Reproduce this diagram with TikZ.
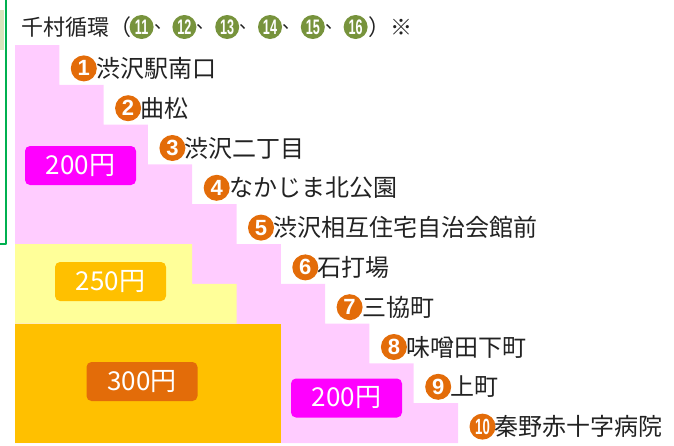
\documentclass[tikz,border=0pt]{standalone}
\usepackage{fontspec}
\usepackage{graphicx}
\setmainfont{Noto Sans CJK JP}
\newfontfamily\numfont{Liberation Sans}
\usetikzlibrary{positioning}
\definecolor{stepPink}{HTML}{FFCCFF}
\definecolor{zoneYellow}{HTML}{FFFF99}
\definecolor{zoneOrange}{HTML}{FFC000}
\definecolor{numOrange}{HTML}{E36C09}
\definecolor{fareMagenta}{HTML}{FF00FF}
\definecolor{numGreen}{HTML}{77933C}
\definecolor{tableGreen}{HTML}{00B050}
\definecolor{lightGreen}{HTML}{D8E4BC}
\definecolor{textGray}{HTML}{222222}
\begin{document}
\begin{tikzpicture}[x=1pt,y=-1pt,line join=round,
	onum/.style={circle,fill=numOrange,text=white,inner sep=0pt,minimum size=26pt,font=\numfont\bfseries\fontsize{22}{22}\selectfont},
	gnum/.style={onum,fill=numGreen,minimum size=24pt,font=\numfont\bfseries\fontsize{21}{21}\selectfont},
	stopname/.style={inner sep=0pt,text=textGray,font=\fontsize{24}{26}\selectfont},
	price/.style={rounded corners=5pt,text=white,minimum width=111pt,minimum height=39pt,inner sep=0pt,font=\fontsize{26}{28}\selectfont}]
	\useasboundingbox (0,0) rectangle (674,445);
	\def\w{44.3} \def\h{39.8} % step size
	% table edge
	\fill[lightGreen] (0,10) rectangle (4,50);
	\draw[tableGreen,line width=2pt] (6,0)--(6,244)--(0,244);
	% fare zones
	\fill[stepPink] (15,45) \foreach \k in {1,...,10}{
		--({15+\k*\w},{45+(\k-1)*\h})--({15+\k*\w},{45+\k*\h})} --(15,{45+10*\h})--cycle;
	\fill[zoneYellow] (15,{45+5*\h})--({15+4*\w},{45+5*\h})--({15+4*\w},{45+6*\h})
		--({15+5*\w},{45+6*\h})--({15+5*\w},{45+7*\h})--(15,{45+7*\h})--cycle;
	\fill[zoneOrange] (15,{45+7*\h}) rectangle ({15+6*\w},{45+10*\h});
	% title
	\node[stopname,font=\fontsize{22}{24}\selectfont,anchor=west] (title) at (21,27) {千村循環（};
	\node[gnum,right=-2pt of title] (g11) {\scalebox{.6}[1]{11}};
	\foreach \n [remember=\n as \m (initially 11)] in {12,...,16}{
		\node[stopname,font=\fontsize{18}{20}\selectfont,right=0pt of g\m] (c\m) {、};
		\node[gnum,right=0pt of c\m] (g\n) {\scalebox{.6}[1]{\n}};
	}
	\node[stopname,font=\fontsize{22}{24}\selectfont,right=0pt of g16] (tail) {）※};
	% stops
	\foreach \k/\name in {1/渋沢駅南口,2/曲松,3/渋沢二丁目,4/なかじま北公園,5/渋沢相互住宅自治会館前,
		6/石打場,7/三協町,8/味噌田下町,9/上町,10/秦野赤十字病院}{
		\node[onum] (n\k) at ({15+\k*\w+24.5},{45+(\k-0.5)*\h+3.5}) {\ifnum\k=10 \scalebox{.6}[1]{10}\else\k\fi};
		\node[stopname,right=-1pt of n\k] (s\k) {\name};
	}
	% fares
	\node[price,fill=fareMagenta] (p200a) at (80.5,165.5) {200円};
	\node[price,fill=zoneOrange] (p250) at (110.5,281.5) {250円};
	\node[price,fill=numOrange] (p300) at (142,381.5) {300円};
	\node[price,fill=fareMagenta] (p200b) at (346.5,398) {200円};
\end{tikzpicture}
\end{document}
